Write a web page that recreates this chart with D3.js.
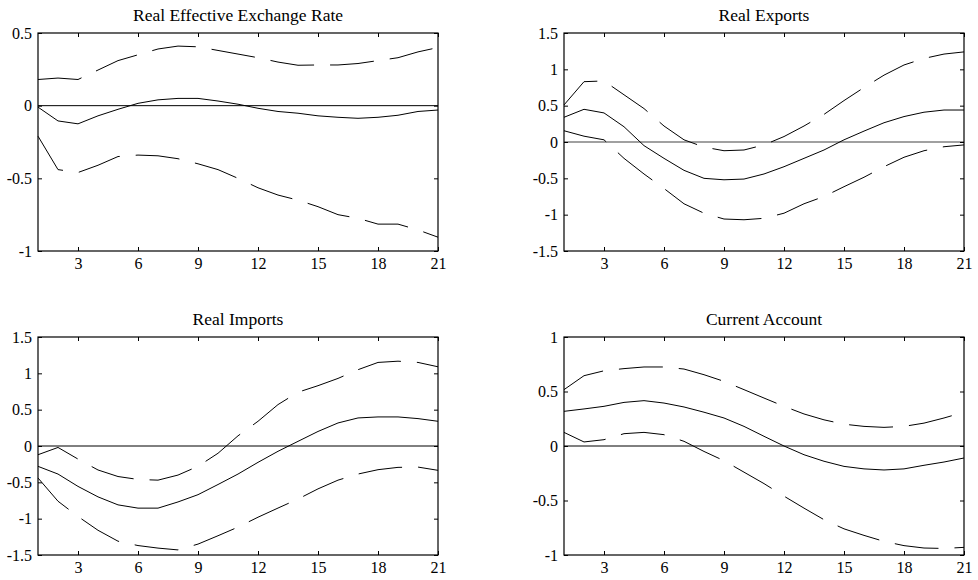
<!DOCTYPE html>
<html lang="en">
<head>
    <meta charset="UTF-8">
    <title>Impulse responses</title>
    <script src="https://d3js.org/d3.v7.min.js"></script>
    <style>
        body {
            margin: 0;
            background-color: #fff;
        }
        svg text {
            font-family: "Liberation Serif", "Times New Roman", serif;
            fill: #000;
        }
        .title {
            font-size: 17.5px;
        }
        .axis text {
            font-size: 16px;
        }
        .axis path,
        .axis line {
            stroke: #000;
        }
        .frame {
            fill: none;
            stroke: #000;
            stroke-width: 1.2;
        }
        .mid {
            fill: none;
            stroke: #000;
            stroke-width: 1;
        }
        .band {
            fill: none;
            stroke: #000;
            stroke-width: 1;
            stroke-dasharray: 44,16;
        }
    </style>
</head>
<body>
    <svg width="978" height="580"></svg>

    <script>
        // horizon 1..21
        const periods = d3.range(1, 22);
        const xTicks = [3, 6, 9, 12, 15, 18, 21];

        const titles = ["Real Effective Exchange Rate", "Real Exports", "Real Imports", "Current Account"];

        const reerMid   = [-0.01, -0.105, -0.125, -0.07, -0.025, 0.016, 0.04, 0.05, 0.05, 0.032, 0.01, -0.018, -0.04, -0.052, -0.07, -0.08, -0.087, -0.08, -0.066, -0.04, -0.03];
        const reerUpper = [0.18, 0.19, 0.18, 0.245, 0.31, 0.35, 0.39, 0.41, 0.405, 0.38, 0.355, 0.33, 0.30, 0.278, 0.28, 0.28, 0.29, 0.31, 0.33, 0.37, 0.40];
        const reerLower = [-0.21, -0.44, -0.46, -0.41, -0.35, -0.34, -0.345, -0.365, -0.40, -0.44, -0.50, -0.565, -0.615, -0.65, -0.695, -0.75, -0.775, -0.815, -0.815, -0.855, -0.905];

        const expMid   = [0.34, 0.45, 0.40, 0.21, -0.05, -0.225, -0.39, -0.50, -0.52, -0.51, -0.44, -0.34, -0.225, -0.11, 0.03, 0.15, 0.265, 0.35, 0.41, 0.44, 0.44];
        const expUpper = [0.51, 0.83, 0.84, 0.65, 0.46, 0.22, 0.03, -0.07, -0.12, -0.11, -0.04, 0.075, 0.22, 0.38, 0.57, 0.75, 0.92, 1.06, 1.15, 1.21, 1.24];
        const expLower = [0.155, 0.08, 0.03, -0.225, -0.44, -0.64, -0.85, -0.98, -1.06, -1.07, -1.05, -0.98, -0.85, -0.75, -0.615, -0.485, -0.34, -0.21, -0.12, -0.065, -0.04];

        const impMid   = [-0.28, -0.386, -0.556, -0.70, -0.81, -0.855, -0.855, -0.77, -0.67, -0.53, -0.386, -0.225, -0.073, 0.064, 0.20, 0.317, 0.386, 0.40, 0.40, 0.377, 0.34];
        const impUpper = [-0.12, -0.02, -0.18, -0.33, -0.42, -0.46, -0.47, -0.40, -0.28, -0.10, 0.14, 0.34, 0.57, 0.74, 0.83, 0.93, 1.05, 1.15, 1.167, 1.15, 1.09];
        const impLower = [-0.44, -0.76, -0.97, -1.16, -1.31, -1.37, -1.405, -1.43, -1.35, -1.235, -1.116, -0.98, -0.854, -0.73, -0.59, -0.47, -0.386, -0.326, -0.294, -0.29, -0.335];

        const caMid   = [0.318, 0.34, 0.364, 0.40, 0.416, 0.394, 0.358, 0.31, 0.257, 0.18, 0.089, 0.0, -0.08, -0.14, -0.187, -0.21, -0.22, -0.21, -0.177, -0.147, -0.11];
        const caUpper = [0.517, 0.645, 0.69, 0.71, 0.725, 0.725, 0.706, 0.654, 0.593, 0.517, 0.44, 0.364, 0.294, 0.24, 0.20, 0.18, 0.171, 0.18, 0.21, 0.257, 0.31];
        const caLower = [0.125, 0.037, 0.058, 0.113, 0.125, 0.104, 0.043, -0.05, -0.135, -0.24, -0.345, -0.46, -0.57, -0.676, -0.76, -0.82, -0.875, -0.914, -0.936, -0.94, -0.93];

        const yTicksReer = [-1, -0.5, 0, 0.5];
        const yTicksTrade = [-1.5, -1, -0.5, 0, 0.5, 1, 1.5];
        const yTicksCa = [-1, -0.5, 0, 0.5, 1];

        const panels = [
            { title: titles[0], mid: reerMid, upper: reerUpper, lower: reerLower, ticks: yTicksReer, left: 38, top: 33, zeroColor: "#000" },
            { title: titles[1], mid: expMid, upper: expUpper, lower: expLower, ticks: yTicksTrade, left: 564, top: 33, zeroColor: "#808080" },
            { title: titles[2], mid: impMid, upper: impUpper, lower: impLower, ticks: yTicksTrade, left: 38, top: 337, zeroColor: "#000" },
            { title: titles[3], mid: caMid, upper: caUpper, lower: caLower, ticks: yTicksCa, left: 564, top: 337, zeroColor: "#000" }
        ];

        const width = 400;
        const height = 218;
        const svg = d3.select("svg");

        panels.forEach(p => {
            const g = svg.append("g").attr("transform", `translate(${p.left},${p.top})`);

            const x = d3.scaleLinear().domain([1, 21]).range([0, width]);
            const y = d3.scaleLinear().domain(d3.extent(p.ticks)).range([height, 0]);

            // zero line
            g.append("line")
                .attr("x1", 0).attr("x2", width)
                .attr("y1", y(0)).attr("y2", y(0))
                .attr("stroke", p.zeroColor)
                .attr("stroke-width", p.zeroColor === "#000" ? 1 : 1.5);

            const line = d3.line().x((d, i) => x(periods[i])).y(d => y(d));

            g.append("path").datum(p.upper).attr("class", "band").attr("d", line);
            g.append("path").datum(p.lower).attr("class", "band").attr("d", line);
            g.append("path").datum(p.mid).attr("class", "mid").attr("d", line);

            // axes with inward ticks
            const fmt = d => String(d);
            g.append("g").attr("class", "axis")
                .attr("transform", `translate(0,${height})`)
                .call(d3.axisBottom(x).tickValues(xTicks).tickSize(-4).tickPadding(7).tickFormat(fmt))
                .call(a => a.select(".domain").remove());
            g.append("g").attr("class", "axis")
                .call(d3.axisTop(x).tickValues(xTicks).tickSize(-4).tickFormat(""))
                .call(a => a.select(".domain").remove());
            g.append("g").attr("class", "axis")
                .call(d3.axisLeft(y).tickValues(p.ticks).tickSize(-4).tickPadding(6).tickFormat(fmt))
                .call(a => a.select(".domain").remove());
            g.append("g").attr("class", "axis")
                .attr("transform", `translate(${width},0)`)
                .call(d3.axisRight(y).tickValues(p.ticks).tickSize(-4).tickFormat(""))
                .call(a => a.select(".domain").remove());

            g.append("rect").attr("class", "frame")
                .attr("width", width).attr("height", height);

            g.append("text").attr("class", "title")
                .attr("x", width / 2).attr("y", -12)
                .attr("text-anchor", "middle")
                .text(p.title);
        });
    </script>
</body>
</html>
